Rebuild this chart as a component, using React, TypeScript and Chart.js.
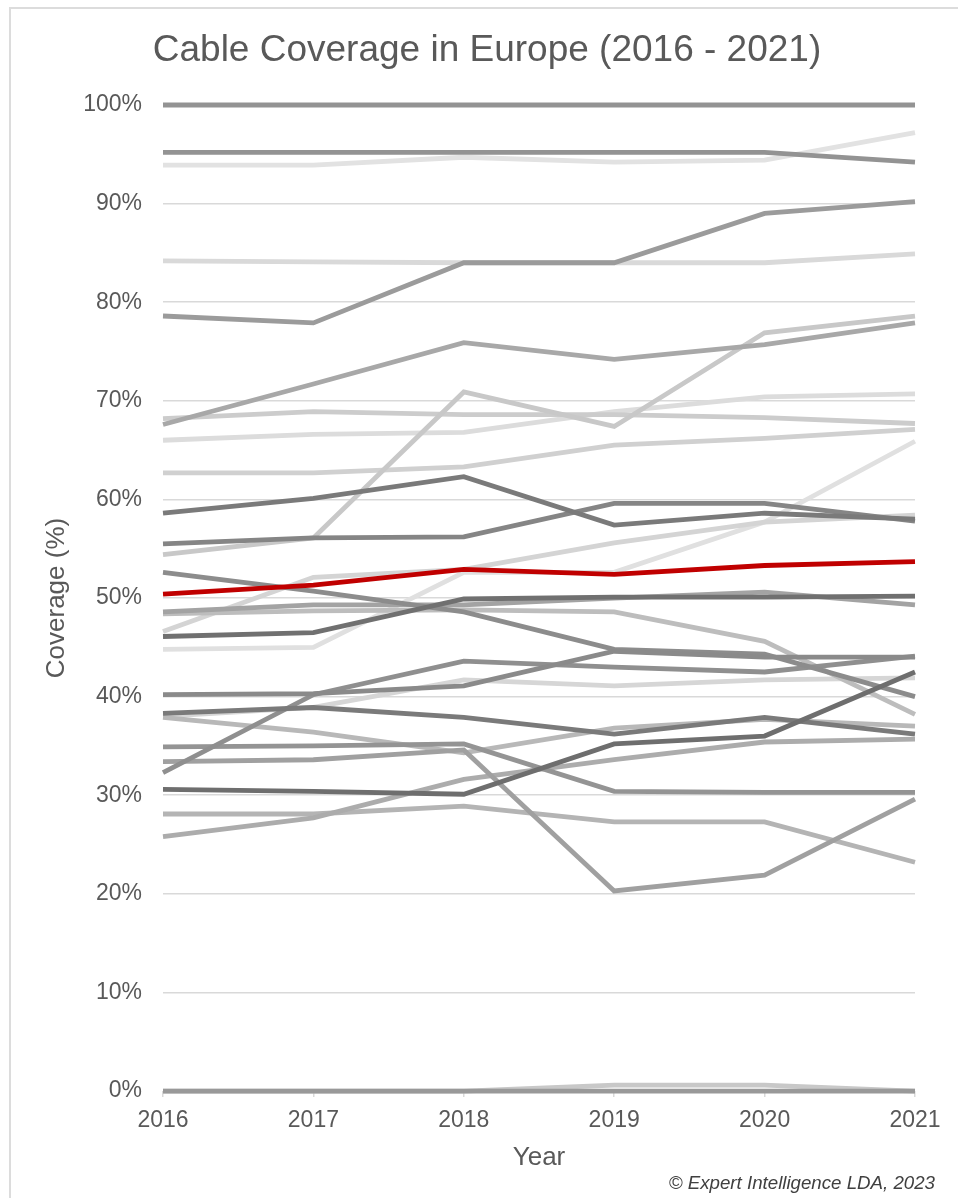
import React, { useEffect, useRef } from "react";
import { Chart, registerables } from "chart.js";

Chart.register(...registerables);

const years = ["2016", "2017", "2018", "2019", "2020", "2021"];
const yTickStep = 10;

const highlight = [50.4, 51.3, 52.9, 52.4, 53.3, 53.7];
const s01 = [100, 100, 100, 100, 100, 100];
const s02 = [95.2, 95.2, 95.2, 95.2, 95.2, 94.2];
const s03 = [93.9, 93.9, 94.7, 94.2, 94.4, 97.2];
const s04 = [84.2, 84.1, 84.0, 84.0, 84.0, 84.9];
const s05 = [78.6, 77.9, 84.0, 84.0, 89.0, 90.2];
const s06 = [67.6, 71.7, 75.9, 74.2, 75.7, 77.9];
const s07 = [54.4, 56.1, 70.9, 67.4, 76.9, 78.6];
const s08 = [68.2, 68.9, 68.6, 68.6, 68.3, 67.7];
const s09 = [66.0, 66.6, 66.8, 68.9, 70.4, 70.7];
const s10 = [62.7, 62.7, 63.3, 65.5, 66.2, 67.1];
const s11 = [58.6, 60.1, 62.3, 57.4, 58.6, 58.0];
const s12 = [55.5, 56.1, 56.2, 59.6, 59.6, 57.8];
const s13 = [46.6, 52.1, 52.9, 55.6, 57.7, 58.4];
const s14 = [52.6, 50.7, 48.6, 44.8, 44.3, 40.0];
const s15 = [44.8, 45.0, 52.6, 52.6, 57.7, 65.9];
const s16 = [46.1, 46.5, 49.9, 50.1, 50.1, 50.2];
const s17 = [48.6, 49.3, 49.3, 50.0, 50.6, 49.3];
const s18 = [48.4, 48.7, 48.8, 48.6, 45.6, 38.2];
const s19 = [38.3, 38.9, 37.9, 36.2, 37.9, 36.2];
const s20 = [40.2, 40.3, 41.1, 44.6, 44.0, 44.0];
const s21 = [32.3, 40.2, 43.6, 43.0, 42.5, 44.1];
const s22 = [38.0, 38.9, 41.7, 41.1, 41.7, 41.9];
const s23 = [37.9, 36.4, 34.3, 36.8, 37.7, 37.0];
const s24 = [34.9, 35.0, 35.2, 30.4, 30.3, 30.3];
const s25 = [33.4, 33.6, 34.6, 20.3, 21.9, 29.6];
const s26 = [30.6, 30.4, 30.1, 35.2, 36.0, 42.5];
const s27 = [28.1, 28.1, 28.9, 27.3, 27.3, 23.2];
const s28 = [25.8, 27.7, 31.6, 33.6, 35.4, 35.7];
const s29 = [0, 0, 0, 0, 0, 0];
const s30 = [0, 0, 0, 0.6, 0.6, 0];

// drawn order: first entry is on top
const seriesList: [number[], string][] = [
  [highlight, "#c00000"],
  [s26, "#6e6e6e"],
  [s16, "#707070"],
  [s19, "#7a7a7a"],
  [s11, "#7a7a7a"],
  [s12, "#858585"],
  [s20, "#8a8a8a"],
  [s14, "#8c8c8c"],
  [s21, "#8f8f8f"],
  [s01, "#939393"],
  [s02, "#939393"],
  [s29, "#999999"],
  [s24, "#949494"],
  [s05, "#9b9b9b"],
  [s25, "#a0a0a0"],
  [s17, "#a3a3a3"],
  [s06, "#a8a8a8"],
  [s28, "#acacac"],
  [s27, "#b4b4b4"],
  [s23, "#b8b8b8"],
  [s18, "#bdbdbd"],
  [s07, "#c8c8c8"],
  [s30, "#c8c8c8"],
  [s08, "#cccccc"],
  [s10, "#d0d0d0"],
  [s13, "#d4d4d4"],
  [s22, "#d6d6d6"],
  [s04, "#d9d9d9"],
  [s09, "#dcdcdc"],
  [s15, "#e0e0e0"],
  [s03, "#e2e2e2"],
];

const FONT = "'Liberation Sans', Arial, sans-serif";
const TEXT = "#595959";

export default function App() {
  const ref = useRef<HTMLCanvasElement | null>(null);

  useEffect(() => {
    if (!ref.current) return;
    const chart = new Chart(ref.current, {
      type: "line",
      data: {
        labels: years,
        datasets: seriesList.map(([d, c], i) => ({
          label: "s" + i,
          data: d,
          borderColor: c,
          backgroundColor: c,
          borderWidth: 4.8,
          pointRadius: 0,
          pointHoverRadius: 0,
          tension: 0,
          fill: false,
          clip: false as any,
        })),
      },
      options: {
        animation: false,
        responsive: false,
        maintainAspectRatio: false,
        events: [],
        layout: { padding: { left: 39, right: 23, top: 0, bottom: 2.5 } },
        plugins: {
          legend: { display: false },
          tooltip: { enabled: false },
          title: {
            display: true,
            text: "Cable Coverage in Europe (2016 - 2021)",
            color: TEXT,
            font: { family: FONT, size: 37, weight: "normal" },
            padding: { top: 28.5, bottom: 32.1 },
          },
          subtitle: {
            display: true,
            position: "bottom",
            align: "end",
            text: "© Expert Intelligence LDA, 2023",
            color: "#404040",
            font: { family: FONT, size: 18.7, style: "italic", weight: "normal" },
            padding: 0,
          },
        },
        scales: {
          x: {
            type: "category",
            offset: false,
            grid: {
              display: true,
              drawOnChartArea: false,
              drawTicks: true,
              tickLength: 6,
              color: "#d9d9d9",
              lineWidth: 1.5,
            },
            border: { display: false },
            ticks: {
              color: TEXT,
              font: { family: FONT, size: 23 },
              padding: 10,
              maxRotation: 0,
              autoSkip: false,
            },
            title: {
              display: true,
              text: "Year",
              color: TEXT,
              font: { family: FONT, size: 26 },
              padding: 0,
            },
            afterFit: (s: any) => {
              s.height = 82;
            },
          },
          y: {
            min: 0,
            max: 100,
            ticks: {
              stepSize: yTickStep,
              callback: (v: any) => v + "%",
              color: TEXT,
              font: { family: FONT, size: 23 },
              padding: 21,
            },
            grid: { color: "#d9d9d9", lineWidth: 1.5, drawTicks: false },
            border: { display: false },
            title: {
              display: true,
              text: "Coverage (%)",
              color: TEXT,
              font: { family: FONT, size: 26 },
              padding: { top: 2, bottom: 0 },
            },
            afterFit: (s: any) => {
              s.width = 124;
            },
          },
          r: {
            type: "linear",
            position: "right",
            display: true,
            grid: { display: false },
            border: { display: false },
            ticks: { display: false },
            afterFit: (s: any) => {
              s.width = 20;
            },
          },
        },
      } as any,
    });
    return () => chart.destroy();
  }, []);

  return (
    <div
      style={{
        position: "fixed",
        left: 0,
        top: 0,
        width: 958,
        height: 1198,
        overflow: "hidden",
        background: "#ffffff",
      }}
    >
      <canvas
        ref={ref}
        width={958}
        height={1198}
        style={{ position: "absolute", left: 0, top: 0, width: 958, height: 1198 }}
      />
      <div
        style={{
          position: "absolute",
          left: 9,
          top: 7,
          width: 2000,
          height: 2000,
          border: "2px solid #dcdcdc",
          pointerEvents: "none",
        }}
      />
    </div>
  );
}
